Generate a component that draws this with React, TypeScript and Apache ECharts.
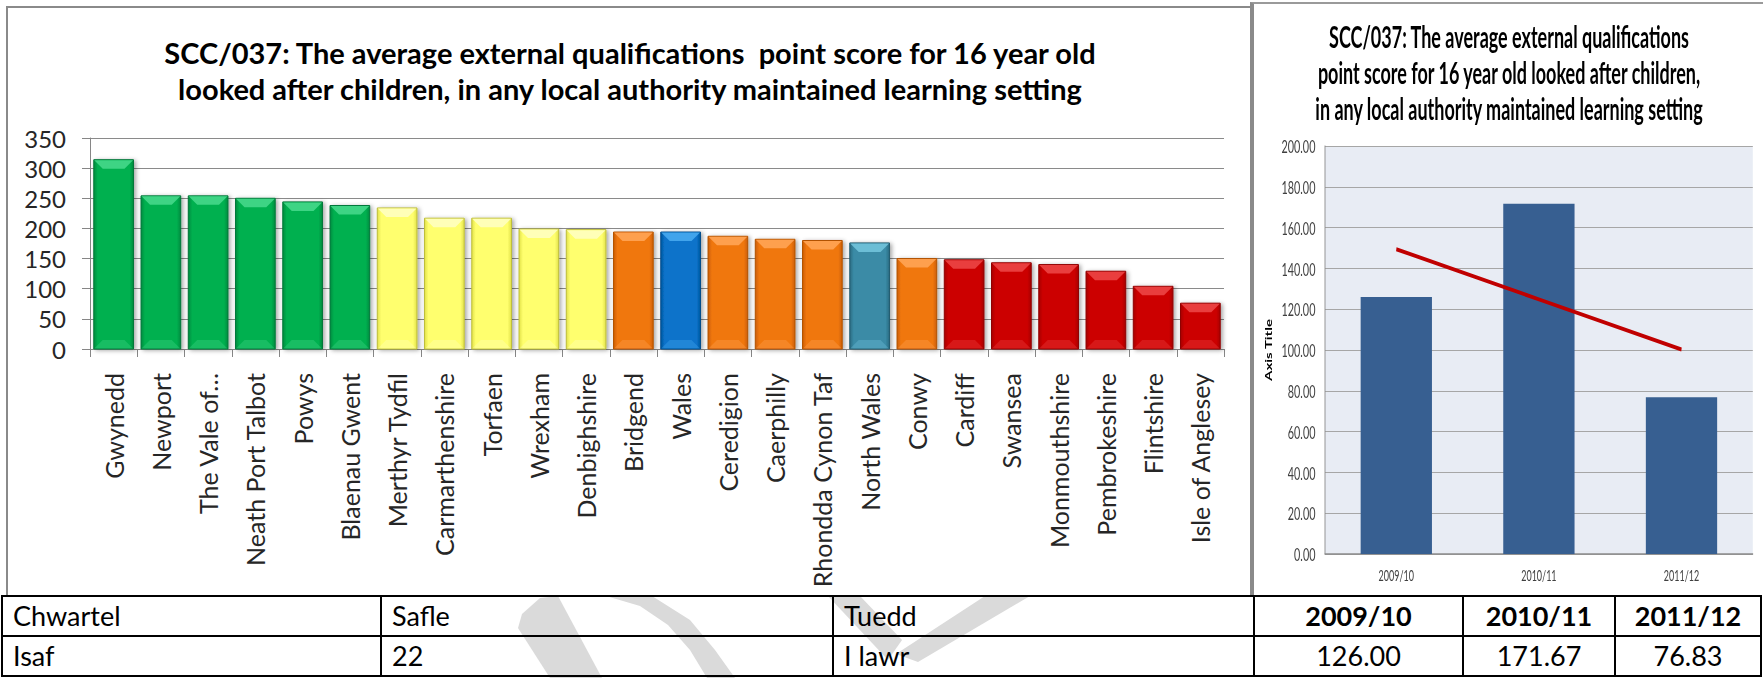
import React, { useEffect, useRef } from "react";
import * as echarts from "echarts";

// ---------- data ----------
const authorities = [
  "Gwynedd", "Newport", "The Vale of…", "Neath Port Talbot", "Powys", "Blaenau Gwent",
  "Merthyr Tydfil", "Carmarthenshire", "Torfaen", "Wrexham", "Denbighshire", "Bridgend",
  "Wales", "Ceredigion", "Caerphilly", "Rhondda Cynon Taf", "North Wales", "Conwy",
  "Cardiff", "Swansea", "Monmouthshire", "Pembrokeshire", "Flintshire", "Isle of Anglesey",
];
const scores = [314, 254, 254, 250, 244, 238, 234, 217, 217, 199, 198, 194, 194, 187, 182, 180, 176, 150, 148, 143, 140, 129, 104, 76];
const quartiles = [
  "top", "top", "top", "top", "top", "top",
  "upper", "upper", "upper", "upper", "upper",
  "lower", "wales", "lower", "lower", "lower", "north", "lower",
  "bottom", "bottom", "bottom", "bottom", "bottom", "bottom",
];
const leftTitle = [
  "SCC/037: The average external qualifications  point score for 16 year old",
  "looked after children, in any local authority maintained learning setting",
];

const years = ["2009/10", "2010/11", "2011/12"];
const yearScores = [126.0, 171.67, 76.83];
const trendValues = [149.42, 124.83, 100.25];
const rightTitle = [
  "SCC/037: The average external qualifications",
  "point score for 16 year old looked after children,",
  "in any local authority maintained learning setting",
];

const tableHeader = ["Chwartel", "Safle", "Tuedd"];
const tableValues = ["Isaf", "22", "I lawr"];
const yearValueLabels = ["126.00", "171.67", "76.83"];

// ---------- styles ----------
const palette: Record<string, { base: string; light: string; edge: string; stroke: string }> = {
  top: { base: "#00B050", light: "#45D88A", edge: "#008C3E", stroke: "#00773A" },
  upper: { base: "#FFFF6E", light: "#FFFFC0", edge: "#E2E24A", stroke: "#BDBD3A" },
  lower: { base: "#F0770F", light: "#FFA455", edge: "#CC5E04", stroke: "#B35204" },
  wales: { base: "#0A73CA", light: "#47AAF0", edge: "#0058A0", stroke: "#004C8C" },
  north: { base: "#3A8BA6", light: "#72C3DC", edge: "#2A6C82", stroke: "#245D70" },
  bottom: { base: "#CC0000", light: "#EC4545", edge: "#A80000", stroke: "#8E0000" },
};
const FONT = "Lato, 'Open Sans', sans-serif";
const SX = 0.6; // horizontal squeeze of the right-hand chart

function leftOption(): any {
  return {
    animation: false,
    backgroundColor: "transparent",
    textStyle: { fontFamily: FONT },
    graphic: leftTitle.map((t, i) => ({
      type: "text",
      x: 630,
      y: 52 + i * 36,
      style: {
        text: t,
        fontFamily: FONT,
        fontSize: 29,
        fontWeight: "bold",
        fill: "#000",
        align: "center",
        verticalAlign: "middle",
      },
    })),
    grid: { left: 90, top: 138, width: 1134, height: 211 },
    xAxis: {
      type: "category",
      data: authorities,
      axisLine: { lineStyle: { color: "#868686", width: 1 } },
      axisTick: { show: true, length: 8, lineStyle: { color: "#868686" } },
      axisLabel: {
        rotate: 90,
        interval: 0,
        margin: 24,
        fontSize: 25,
        color: "#262626",
        fontFamily: FONT,
      },
    },
    yAxis: {
      type: "value",
      min: 0,
      max: 350,
      interval: 50,
      axisLine: { show: true, lineStyle: { color: "#868686" } },
      axisTick: { show: true, length: 8, lineStyle: { color: "#868686" } },
      splitLine: { lineStyle: { color: "#8A8A8A", width: 1 } },
      axisLabel: { fontSize: 24, margin: 24, color: "#262626", fontFamily: FONT },
    },
    series: [
      {
        type: "custom",
        encode: { x: 0, y: 1 },
        data: scores.map((v, i) => [i, v, i]),
        renderItem: (params: any, api: any) => {
          const i = api.value(0);
          const v = api.value(1);
          const idx = api.value(2);
          const c = palette[quartiles[idx]];
          const top = api.coord([i, v]);
          const base = api.coord([i, 0]);
          const band = api.size([1, 0])[0];
          const w = band * 0.84;
          const x = top[0] - w / 2;
          const y = top[1];
          const h = base[1] - top[1];
          const b = Math.min(9, h / 3);
          return {
            type: "group",
            children: [
              {
                type: "rect",
                shape: { x, y, width: w, height: h },
                style: {
                  fill: {
                    type: "linear",
                    x: 0, y: 0, x2: 1, y2: 0,
                    colorStops: [
                      { offset: 0, color: c.edge },
                      { offset: 0.1, color: c.base },
                      { offset: 0.9, color: c.base },
                      { offset: 1, color: c.edge },
                    ],
                  },
                  stroke: c.stroke,
                  lineWidth: 1,
                  shadowBlur: 4,
                  shadowOffsetX: 2,
                  shadowOffsetY: 1,
                  shadowColor: "rgba(0,0,0,0.35)",
                },
              },
              {
                type: "polygon",
                shape: {
                  points: [
                    [x + 0.5, y + 0.5],
                    [x + w - 0.5, y + 0.5],
                    [x + w - b, y + b],
                    [x + b, y + b],
                  ],
                },
                style: { fill: c.light, opacity: 0.9 },
              },
              {
                type: "polygon",
                shape: {
                  points: [
                    [x + 0.5, y + h - 0.5],
                    [x + b, y + h - b],
                    [x + w - b, y + h - b],
                    [x + w - 0.5, y + h - 0.5],
                  ],
                },
                style: { fill: c.light, opacity: 0.35 },
              },
            ],
          };
        },
      },
    ],
  };
}

function rightOption(): any {
  const cx = (1509 - 1253) / SX;
  return {
    animation: false,
    backgroundColor: "transparent",
    textStyle: { fontFamily: FONT },
    graphic: rightTitle.map((t, i) => ({
      type: "text",
      x: cx,
      y: 36 + i * 36,
      style: {
        text: t,
        fontFamily: FONT,
        fontSize: 30,
        fontWeight: "bold",
        fill: "#000",
        align: "center",
        verticalAlign: "middle",
      },
    })),
    grid: {
      left: 120,
      right: 17,
      top: 146,
      height: 408,
      show: true,
      backgroundColor: "#E8ECF4",
      borderWidth: 0,
    },
    xAxis: {
      type: "category",
      data: years,
      axisLine: { lineStyle: { color: "#8C8C8C", width: 1.5 } },
      axisTick: { show: false },
      axisLabel: { fontSize: 15, margin: 14, color: "#404040", fontFamily: FONT },
    },
    yAxis: {
      type: "value",
      min: 0,
      max: 200,
      interval: 20,
      name: "Axis Title",
      nameLocation: "middle",
      nameRotate: 90,
      nameGap: 86,
      nameTextStyle: { fontSize: 15, fontWeight: "bold", color: "#000", fontFamily: FONT },
      axisLine: { show: true, lineStyle: { color: "#8C8C8C", width: 1.5 } },
      axisTick: { show: false },
      splitLine: { lineStyle: { color: "#A6A6A6", width: 1.2 } },
      axisLabel: {
        fontSize: 18,
        margin: 16,
        color: "#404040",
        fontFamily: FONT,
        formatter: (v: number) => v.toFixed(2),
      },
    },
    series: [
      {
        type: "bar",
        data: yearScores,
        barWidth: "50%",
        itemStyle: { color: "#375F91" },
      },
      {
        type: "line",
        data: trendValues,
        symbol: "none",
        lineStyle: { color: "#C00000", width: 4 },
      },
    ],
  };
}

const cellBase: React.CSSProperties = {
  border: "2px solid #000",
  padding: "0 0 0 10px",
  fontFamily: FONT,
  fontSize: 27,
  color: "#000",
  height: 38,
  lineHeight: "38px",
  whiteSpace: "nowrap",
  overflow: "hidden",
};

export default function App() {
  const leftRef = useRef<HTMLDivElement>(null);
  const rightRef = useRef<HTMLDivElement>(null);

  useEffect(() => {
    const left = echarts.init(leftRef.current!, undefined, { renderer: "svg" });
    left.setOption(leftOption());
    const right = echarts.init(rightRef.current!, undefined, { renderer: "svg" });
    right.setOption(rightOption());
    return () => {
      left.dispose();
      right.dispose();
    };
  }, []);

  const colW = [379, 452, 421, 209, 152, 146];

  return (
    <div style={{ position: "absolute", left: 0, top: 0, width: 1763, height: 678, background: "#fff", overflow: "hidden" }}>
      {/* watermark (only visible through the table) */}
      <svg width={1763} height={678} style={{ position: "absolute", left: 0, top: 0 }}>
        <g fill="#DADADA">
          <polygon points="518,628 522,614 540,598 558,596 602,678 550,678" />
          <polygon points="606,596 652,596 690,620 715,650 735,678 707,678 690,650 668,625 640,606" />
          <polygon points="828,596 860,596 902,640 888,660" />
          <polygon points="985,596 1030,596 918,662 896,654" />
        </g>
      </svg>

      {/* left chart */}
      <div style={{ position: "absolute", left: 0, top: 0, width: 1252, height: 596, background: "#fff" }}>
        <div ref={leftRef} style={{ position: "absolute", left: 0, top: 0, width: 1252, height: 596 }} />
        <div style={{ position: "absolute", left: 6, top: 6, width: 1244, height: 590, borderLeft: "2px solid #8A8A8A", borderTop: "2px solid #8A8A8A", boxSizing: "border-box", pointerEvents: "none" }} />
      </div>

      {/* right chart */}
      <div style={{ position: "absolute", left: 1250, top: 0, width: 513, height: 596, background: "#fff", overflow: "hidden" }}>
        <div
          ref={rightRef}
          style={{
            position: "absolute",
            left: 3,
            top: 0,
            width: 510 / SX,
            height: 596,
            transform: `scaleX(${SX})`,
            transformOrigin: "0 0",
          }}
        />
        <div style={{ position: "absolute", left: 0, top: 2, width: 513, height: 594, borderLeft: "4px solid #8A8A8A", borderTop: "2px solid #9A9A9A", boxSizing: "border-box", pointerEvents: "none" }} />
      </div>

      {/* table */}
      <table
        style={{
          position: "absolute",
          left: 1,
          top: 595,
          width: 1761,
          borderCollapse: "collapse",
          tableLayout: "fixed",
          background: "transparent",
        }}
      >
        <colgroup>
          {colW.map((w, i) => (
            <col key={i} style={{ width: w }} />
          ))}
        </colgroup>
        <tbody>
          <tr>
            {tableHeader.map((t) => (
              <td key={t} style={cellBase}>{t}</td>
            ))}
            {years.map((y) => (
              <td key={y} style={{ ...cellBase, padding: 0, textAlign: "center", fontWeight: "bold" }}>{y}</td>
            ))}
          </tr>
          <tr>
            {tableValues.map((t) => (
              <td key={t} style={cellBase}>{t}</td>
            ))}
            {yearValueLabels.map((v) => (
              <td key={v} style={{ ...cellBase, padding: 0, textAlign: "center" }}>{v}</td>
            ))}
          </tr>
        </tbody>
      </table>
    </div>
  );
}
